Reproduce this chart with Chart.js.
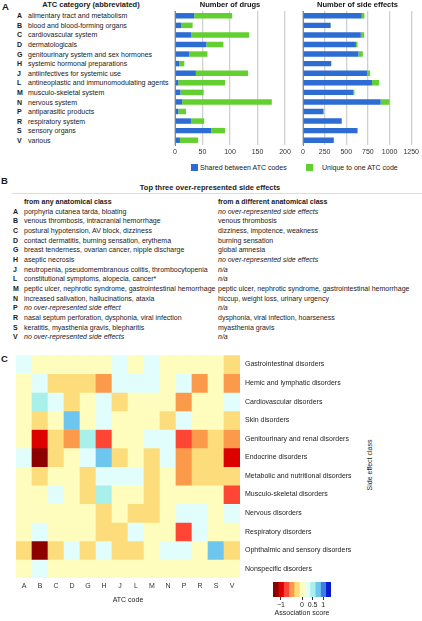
<!DOCTYPE html>
<html>
<head>
<meta charset="utf-8">
<script src="https://cdn.jsdelivr.net/npm/chart.js@4.4.0/dist/chart.umd.min.js"></script>
<style>
  html, body { margin: 0; padding: 0; background: #fff; }
  body { width: 422px; height: 621px; position: relative; overflow: hidden;
         font-family: "Liberation Sans", Arial, sans-serif; color: #1a1a1a; }
  .abs { position: absolute; white-space: nowrap; }
  .panel { font-weight: bold; font-size: 9.5px; line-height: 11px; }
  .t7 { font-size: 7px; line-height: 9px; }
  .b { font-weight: bold; }
  .it { font-style: italic; }
  canvas { position: absolute; }
</style>
</head>
<body>
<div class="abs panel" style="left:2px;top:1px">A</div>
<div class="abs panel" style="left:1px;top:175px">B</div>
<div class="abs panel" style="left:1px;top:353px">C</div>

<div class="abs t7 b" style="left:91px;top:0px;transform:translateX(-50%);font-size:7.5px">ATC category (abbreviated)</div>
<div id="atcList"></div>

<canvas id="drugsChart" width="125" height="158" style="left:170px;top:0px"></canvas>
<canvas id="sideChart" width="126" height="158" style="left:296px;top:0px"></canvas>
<div id="barLegend"></div>

<div class="abs t7 b" style="left:210px;top:183px;transform:translateX(-50%);font-size:7.5px">Top three over-represented side effects</div>
<div class="abs" style="left:12px;top:193px;width:410px;height:1px;background:#dcdcdc"></div>
<div class="abs t7 b" style="left:24px;top:197px">from any anatomical class</div>
<div class="abs t7 b" style="left:218px;top:197px">from a different anatomical class</div>
<div id="tableB"></div>

<canvas id="heatChart" width="362" height="258" style="left:0px;top:346px"></canvas>
<div class="abs t7" style="left:369px;top:465px;transform:translate(-50%,-50%) rotate(-90deg)">Side effect class</div>
<canvas id="scaleChart" width="80" height="43" style="left:262px;top:578px"></canvas>

<script>
// ---- data ----
const atcCodes = ['A', 'B', 'C', 'D', 'G', 'H', 'J', 'L', 'M', 'N', 'P', 'R', 'S', 'V'];
const atcNames = [
  'alimentary tract and metabolism', 'blood and blood-forming organs', 'cardiovascular system',
  'dermatologicals', 'genitourinary system and sex hormones', 'systemic hormonal preparations',
  'antiinfectives for systemic use', 'antineoplastic and immunomodulating agents',
  'musculo-skeletal system', 'nervous system', 'antiparasitic products', 'respiratory system',
  'sensory organs', 'various'
];
const drugsShared = [35, 11, 29, 57, 26, 8, 38, 6, 10, 13, 6, 29, 66, 9];
const drugsUnique = [69, 21, 106, 31, 33, 9, 95, 85, 42, 163, 14, 24, 25, 33];
const sideShared = [679, 317, 668, 611, 641, 324, 740, 798, 580, 897, 237, 447, 626, 355];
const sideUnique = [31, 7, 38, 19, 50, 4, 35, 80, 15, 103, 3, 3, 8, 3];

const anyClassEffects = [
  'porphyria cutanea tarda, bloating',
  'venous thrombosis, intracranial hemorrhage',
  'postural hypotension, AV block, dizziness',
  'contact dermatitis, burning sensation, erythema',
  'breast tenderness, ovarian cancer, nipple discharge',
  'aseptic necrosis',
  'neutropenia, pseudomembranous colitis, thrombocytopenia',
  'constitutional symptoms, alopecia, cancer*',
  'peptic ulcer, nephrotic syndrome, gastrointestinal hemorrhage',
  'increased salivation, hallucinations, ataxia',
  'no over-represented side effect',
  'nasal septum perforation, dysphonia, viral infection',
  'keratitis, myasthenia gravis, blepharitis',
  'no over-represented side effects'
];
const otherClassEffects = [
  'no over-represented side effects',
  'venous thrombosis',
  'dizziness, impotence, weakness',
  'burning sensation',
  'global amnesia',
  'no over-represented side effects',
  'n/a',
  'n/a',
  'peptic ulcer, nephrotic syndrome, gastrointestinal hemorrhage',
  'hiccup, weight loss, urinary urgency',
  'n/a',
  'dysphonia, viral infection, hoarseness',
  'myasthenia gravis',
  'n/a'
];

const sideEffectClasses = [
  'Gastrointestinal disorders', 'Hemic and lymphatic disorders', 'Cardiovascular disorders',
  'Skin disorders', 'Genitourinary and renal disorders', 'Endocrine disorders',
  'Metabolic and nutritional disorders', 'Musculo-skeletal disorders', 'Nervous disorders',
  'Respiratory disorders', 'Ophthalmic and sensory disorders', 'Nonspecific disorders'
];
// association score per side effect class (rows) x ATC code (columns)
const heatGastro    = [0.25, 0, 0, 0, 0, 0, 0.25, 0, 0.25, 0, 0, 0, 0, -0.25];
const heatHemic     = [0, 0.25, -0.25, -0.25, -0.25, -0.5, 0.25, 0.25, 0.25, 0, 0.25, -0.5, 0, -0.5];
const heatCardio    = [0, 0.5, 0.25, -0.25, 0, 0.25, -0.25, 0, 0, 0, -0.5, 0, 0, 0.25];
const heatSkin      = [0, -0.25, 0, 0.75, 0, 0.25, 0, 0, 0, -0.25, 0.25, 0, 0, -0.25];
const heatGenito    = [0, -1, -0.25, -0.5, 0.5, -0.75, 0, 0, 0.25, 0.25, -0.75, -0.5, -0.25, -0.5];
const heatEndocrine = [0.25, -1.25, -0.25, 0, 0.25, 0.75, -0.25, 0, -0.25, 0.25, -0.5, -0.25, -0.25, -1];
const heatMetabolic = [0, -0.25, 0, 0, -0.25, 0.25, 0.25, 0.25, -0.25, 0, -0.5, -0.25, -0.25, -0.25];
const heatMusculo   = [0, 0, 0.25, 0, -0.25, 0.5, 0, 0, -0.25, 0, 0, 0, 0, -0.75];
const heatNervous   = [0, 0, 0, 0, 0, -0.25, 0, -0.25, -0.25, 0, 0.25, 0.25, 0, 0.25];
const heatResp      = [0, 0.25, 0, 0, 0, -0.25, -0.25, 0.25, 0, 0, -0.75, 0.25, 0, 0];
const heatOphth     = [-0.25, -1.25, -0.25, 0.25, -0.25, 0.25, -0.25, -0.25, 0, 0.25, 0.25, 0, 0.75, -0.25];
const heatNonspec   = [0, 0.25, 0, 0, 0, 0, 0, 0, 0, 0, 0, 0, 0, 0];
const heatRows = [heatGastro, heatHemic, heatCardio, heatSkin, heatGenito, heatEndocrine,
  heatMetabolic, heatMusculo, heatNervous, heatResp, heatOphth, heatNonspec];

const scoreLevels = [-1.25, -1, -0.75, -0.5, -0.25, 0, 0.25, 0.5, 0.75, 1, 1.25];
const scoreTicks = [-1, 0, 0.5, 1];

// ---- styles ----
const FONT = '"Liberation Sans", Arial, sans-serif';
const BLUE = '#2d6cd2';
const GREEN = '#63cf30';
const PALETTE = ['#8e0000', '#dc0000', '#ff4533', '#fc9a4b', '#fddc7c', '#fefdbd',
                 '#e1fefd', '#aaf0ea', '#6ec6ee', '#3b7fe6', '#0a1cd2'];

function scoreColor(v) {
  const i = Math.round(v / 0.25) + 5;
  return PALETTE[Math.max(0, Math.min(PALETTE.length - 1, i))];
}

// ---- panel A list + legend ----
const list = document.getElementById('atcList');
atcCodes.forEach((code, i) => {
  const top = 11.2 + i * 9.6;
  list.insertAdjacentHTML('beforeend',
    `<div class="abs t7 b" style="left:17px;top:${top}px">${code}</div>` +
    `<div class="abs t7" style="left:28px;top:${top}px">${atcNames[i]}</div>`);
});

document.getElementById('barLegend').innerHTML =
  `<div class="abs" style="left:191px;top:163.5px;width:7px;height:7px;background:${BLUE}"></div>` +
  `<div class="abs t7" style="left:200px;top:162.5px">Shared between ATC codes</div>` +
  `<div class="abs" style="left:305.5px;top:163.5px;width:7px;height:7px;background:${GREEN}"></div>` +
  `<div class="abs t7" style="left:322px;top:162.5px">Unique to one ATC code</div>`;

// ---- panel B table ----
const tableB = document.getElementById('tableB');
const isNone = s => s === 'n/a' || s.startsWith('no over-represented');
atcCodes.forEach((code, i) => {
  const top = 206.5 + i * 9.67;
  tableB.insertAdjacentHTML('beforeend',
    `<div class="abs t7 b" style="left:13px;top:${top}px">${code}</div>` +
    `<div class="abs t7${isNone(anyClassEffects[i]) ? ' it' : ''}" style="left:24px;top:${top}px">${anyClassEffects[i]}</div>` +
    `<div class="abs t7${isNone(otherClassEffects[i]) ? ' it' : ''}" style="left:218px;top:${top}px">${otherClassEffects[i]}</div>`);
});

// ---- charts ----
Chart.defaults.font.family = FONT;
Chart.defaults.animation = false;

function barConfig(title, shared, unique, max, step, padLeft) {
  return {
    type: 'bar',
    data: {
      labels: atcCodes,
      datasets: [
        { label: 'Shared between ATC codes', data: shared, backgroundColor: BLUE },
        { label: 'Unique to one ATC code', data: unique, backgroundColor: GREEN }
      ]
    },
    options: {
      indexAxis: 'y',
      responsive: false,
      layout: { padding: { left: padLeft, right: 10, top: 0, bottom: 0 } },
      datasets: { bar: { categoryPercentage: 1, barPercentage: 0.57 } },
      plugins: {
        legend: { display: false },
        tooltip: { enabled: false },
        title: {
          display: true, text: title, color: '#111',
          font: { size: 7.5, weight: 'bold' }, padding: { top: 0, bottom: 2 }
        }
      },
      scales: {
        x: {
          stacked: true, min: 0, max: max,
          ticks: { stepSize: step, font: { size: 7 }, color: '#333', padding: 3,
                   maxRotation: 0, minRotation: 0, autoSkip: false,
                   callback: v => String(v) },
          grid: { color: '#d0d0d0', lineWidth: 1.3, drawTicks: false },
          border: { display: false },
          afterFit: s => { s.height = 13; }
        },
        y: {
          stacked: true,
          ticks: { display: false },
          grid: { display: false },
          border: { color: '#8a8a8a', width: 1 },
          afterFit: s => { s.width = 0; }
        }
      }
    }
  };
}

new Chart(document.getElementById('drugsChart'),
  barConfig('Number of drugs', drugsShared, drugsUnique, 200, 50, 5));
new Chart(document.getElementById('sideChart'),
  barConfig('Number of side effects', sideShared, sideUnique, 1250, 250, 7));

// heatmap: one stacked dataset per side effect class, each cell one unit tall
new Chart(document.getElementById('heatChart'), {
  type: 'bar',
  data: {
    labels: atcCodes,
    datasets: heatRows.map((row, r) => ({
      label: sideEffectClasses[r],
      data: row.map(() => 1),
      backgroundColor: row.map(scoreColor)
    }))
  },
  options: {
    responsive: false,
    layout: { padding: { left: 16, top: 6, right: 0, bottom: 0 } },
    datasets: { bar: { categoryPercentage: 1, barPercentage: 1 } },
    plugins: { legend: { display: false }, tooltip: { enabled: false } },
    scales: {
      x: {
        stacked: true,
        grid: { display: false, drawTicks: false }, border: { display: false },
        ticks: { font: { size: 7 }, color: '#333', padding: 4, maxRotation: 0 },
        title: { display: true, text: 'ATC code', color: '#222', font: { size: 7 }, padding: { top: 2, bottom: 0 } },
        afterFit: s => { s.height = 26; }
      },
      y: {
        stacked: true, position: 'right', min: 0, max: sideEffectClasses.length, reverse: true,
        grid: { display: false, drawTicks: false }, border: { display: false },
        afterBuildTicks: s => { s.ticks = sideEffectClasses.map((_, i) => ({ value: i + 0.5 })); },
        ticks: {
          font: { size: 7 }, color: '#222', padding: 5,
          callback: v => sideEffectClasses[Math.floor(v)]
        },
        afterFit: s => { s.width = 122; }
      }
    }
  }
});

// colour key
new Chart(document.getElementById('scaleChart'), {
  type: 'bar',
  data: {
    labels: ['score'],
    datasets: scoreLevels.map(lv => ({
      data: [[lv - 0.125, lv + 0.125]],
      backgroundColor: scoreColor(lv),
      grouped: false
    }))
  },
  options: {
    indexAxis: 'y',
    responsive: false,
    layout: { padding: { left: 11, right: 11, top: 4, bottom: 0 } },
    datasets: { bar: { categoryPercentage: 1, barPercentage: 1 } },
    plugins: { legend: { display: false }, tooltip: { enabled: false } },
    scales: {
      x: {
        min: -1.375, max: 1.375,
        afterBuildTicks: s => { s.ticks = scoreTicks.map(v => ({ value: v })); },
        ticks: { font: { size: 7 }, color: '#222', padding: 1, maxRotation: 0,
                 callback: v => v === -1 ? '\u22121' : String(v) },
        grid: { drawOnChartArea: false, drawTicks: true, tickLength: 3, color: '#333' },
        border: { display: false },
        title: { display: true, text: 'Association score', color: '#222', font: { size: 7 }, padding: { top: 0, bottom: 4 } },
        afterFit: s => { s.height = 24; }
      },
      y: { display: false }
    }
  }
});
</script>
</body>
</html>
